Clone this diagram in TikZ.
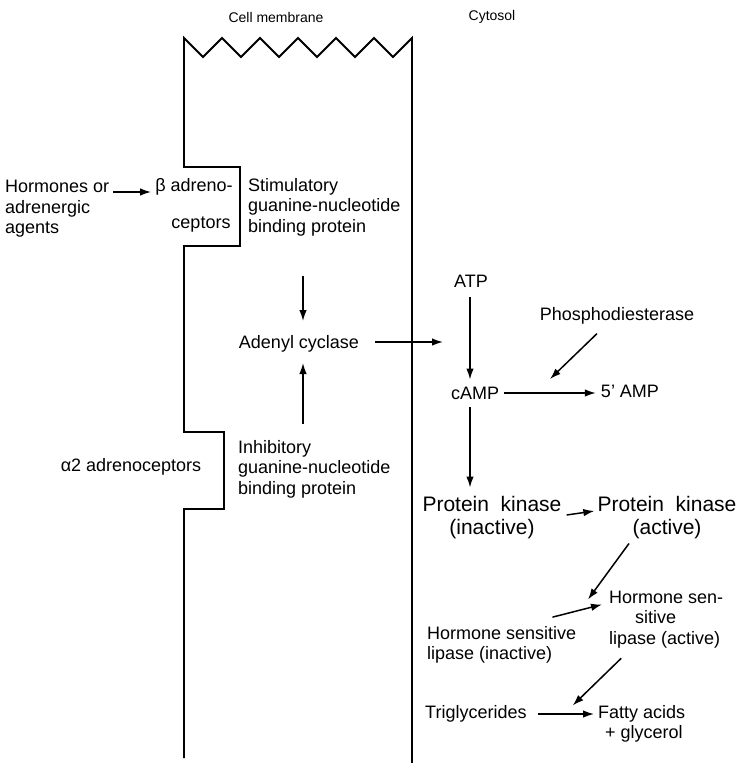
\documentclass[tikz,border=0pt]{standalone}
\usepackage{fontspec}
\setmainfont{Liberation Sans}
\usetikzlibrary{arrows.meta,calc}
\begin{document}
\begin{tikzpicture}[x=1pt,y=-1pt,
  lbl/.style={font=\fontsize{18}{20.5}\selectfont, inner sep=0pt, align=left},
  big/.style={font=\fontsize{21}{23}\selectfont, inner sep=0pt, align=center},
  toplbl/.style={font=\fontsize{14}{15}\selectfont, inner sep=0pt},
  arr/.style={-{Latex[length=11pt,width=7.5pt]}, line width=1.5pt},
  mem/.style={line width=1.8pt, line join=miter}]
\useasboundingbox (0,0) rectangle (742,763);
% membrane
\draw[mem] (184,758) -- (184,509) -- (224,509) -- (224,432) -- (184,432)
  -- (184,246) -- (240,246) -- (240,167) -- (184,167) -- (184,38)
  -- (203,57) -- (222,38) -- (241,57) -- (260,38) -- (279,57) -- (298,38)
  -- (317,57) -- (336,38) -- (355,57) -- (374,38) -- (393,57) -- (412,38)
  -- (412,763);
% labels
\node[toplbl] (cm) at (276,17) {Cell membrane};
\node[toplbl] (cyt) at (492,17) {Cytosol};
\node[lbl, anchor=west] (horm) at (5,209) {Hormones or\\adrenergic\\agents};
\node[lbl] (beta1) at (194,187) {β adreno-};
\node[lbl] (beta2) at (201,225) {ceptors};
\node[lbl, anchor=west] (stim) at (248,207) {Stimulatory\\guanine-nucleotide\\binding protein};
\node[lbl] (aden) at (299,344) {Adenyl cyclase};
\node[lbl, anchor=west] (inhib) at (238,469) {Inhibitory\\guanine-nucleotide\\binding protein};
\node[lbl] (alpha) at (131,467) {α2 adrenoceptors};
\node[lbl] (atp) at (471,281) {ATP};
\node[lbl] (phos) at (617,316) {Phosphodiesterase};
\node[lbl] (camp) at (475,393) {cAMP};
\node[lbl] (amp) at (630,391) {5' AMP};
\node[big] (pki) at (492,518) {Protein\ \ kinase\\(inactive)};
\node[big] (pka) at (667,518) {Protein\ \ kinase\\(active)};
\node[lbl, anchor=west] (hsa) at (609,619.5) {Hormone sen-\\\hspace*{26pt}sitive\\lipase (active)};
\node[lbl, anchor=west] (hsi) at (427,645) {Hormone sensitive\\lipase (inactive)};
\node[lbl, anchor=west] (trig) at (425,714) {Triglycerides};
\node[lbl, anchor=west] (fat) at (598,724) {Fatty acids\\\hspace*{7pt}+ glycerol};
% free ends
\coordinate (acend) at (443,342);
\coordinate (pdend) at (550,379);
% connectors
\draw[arr] ($(horm.east|-beta1.west)+(4,5)$) -- ($(beta1.west)+(-4,5)$);
\draw[arr] ($(aden)+(4,-68)$) -- ($(aden)+(4,-23)$);
\draw[arr] ($(aden)+(4,80)$) -- ($(aden)+(4,19)$);
\draw[arr] ($(aden.east)+(16,-2)$) -- (acend);
\draw[arr] ($(atp.south)+(-1,10)$) -- ($(atp.south|-camp.north)+(-1,-7)$);
\draw[arr] ($(camp.east)+(5,0)$) -- ($(camp.east-|amp.west)+(-5,0)$);
\draw[arr] ($(phos.south)+(-20,9)$) -- (pdend);
\draw[arr] ($(atp.south|-camp.south)+(-1,8)$) -- ($(atp.south|-pki.north)+(-1,-9)$);
\draw[arr] ($(pki.east)+(5,-3)$) -- ($(pka.west)+(-3,-7)$);
\draw[arr] ($(pka.south)+(-38,4)$) -- ($(hsa.west)+(-21,-20)$);
\draw[arr] ($(hsi.north east)+(-24,-9)$) -- ($(hsa.west)+(-7,-15)$);
\draw[arr] ($(hsa.south)+(-45,10)$) -- ($(trig.north east)+(46,0)$);
\draw[arr] ($(trig.east)+(11,0)$) -- ($(trig.east-|fat.west)+(-4,0)$);
\end{tikzpicture}
\end{document}
